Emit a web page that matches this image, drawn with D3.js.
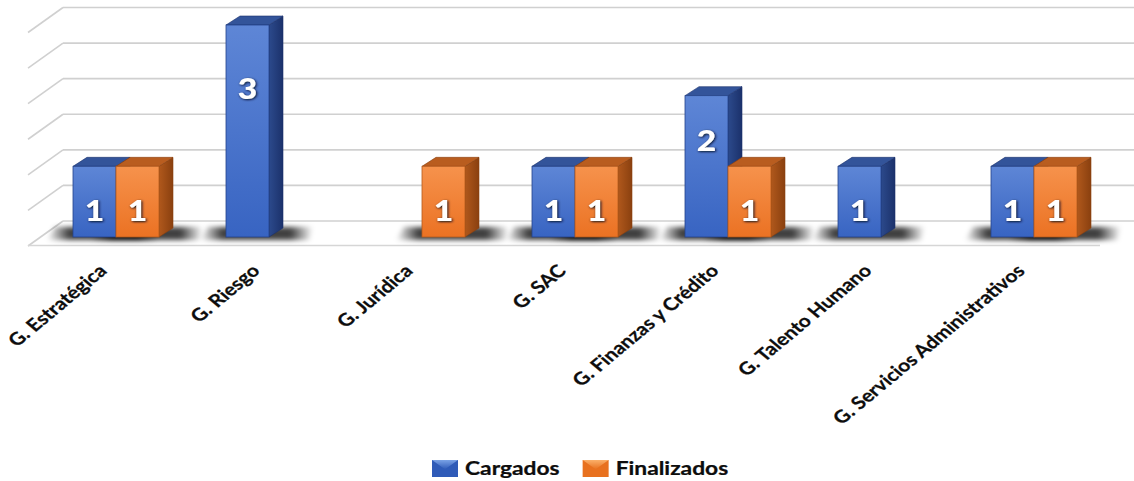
<!DOCTYPE html>
<html>
<head>
<meta charset="utf-8">
<script src="https://cdn.jsdelivr.net/npm/d3@7"></script>
<style>
  html, body { margin: 0; padding: 0; background: #ffffff; }
  svg { display: block; }
</style>
</head>
<body>
<svg id="chart" width="1134" height="481"></svg>
<script>
// ---------------- data ----------------
const categories = ["G. Estratégica", "G. Riesgo", "G. Jurídica", "G. SAC",
  "G. Finanzas y Crédito", "G. Talento Humano", "G. Servicios Administrativos"];
const seriesNames = ["Cargados", "Finalizados"];
const cargados    = [1, 3, null, 1, 2, 1, 1];
const finalizados = [1, null, 1, 1, 1, null, 1];
const gridTicks   = [0, 0.5, 1, 1.5, 2, 2.5, 3];

// ---------------- setup ----------------
const W = 1134, H = 481;
const svg = d3.select("#chart");
const defs = svg.append("defs");
const STRETCH = 1.2;           // horizontal stretch of the original picture
const depth = { dx: 14, dy: -9 };   // bar 3D depth
const wall = { dx: -35, dy: 25 };   // side-wall diagonal

const colors = {
  Cargados:    { front: ["#5e86d6", "#3864c2"], side: ["#2c4a8c", "#1b316b"], top: "#33549a", edge: "#24438a", icon: ["#7aa2e6", "#2f5bb8"] },
  Finalizados: { front: ["#f6924c", "#eb7223"], side: ["#b0581c", "#8a400f"], top: "#b95d1f", edge: "#b45a1c", icon: ["#fbb06a", "#e8711f"] }
};

Object.entries(colors).forEach(([k, c], i) => {
  const gf = defs.append("linearGradient").attr("id", "front" + i).attr("x1", 0).attr("y1", 0).attr("x2", 0).attr("y2", 1);
  gf.append("stop").attr("offset", "0%").attr("stop-color", c.front[0]);
  gf.append("stop").attr("offset", "100%").attr("stop-color", c.front[1]);
  const gs = defs.append("linearGradient").attr("id", "side" + i).attr("x1", 0).attr("y1", 0).attr("x2", 1).attr("y2", 0);
  gs.append("stop").attr("offset", "0%").attr("stop-color", c.side[0]);
  gs.append("stop").attr("offset", "100%").attr("stop-color", c.side[1]);
  const gi = defs.append("linearGradient").attr("id", "icon" + i).attr("x1", 0).attr("y1", 0).attr("x2", 0).attr("y2", 1);
  gi.append("stop").attr("offset", "0%").attr("stop-color", c.icon[0]);
  gi.append("stop").attr("offset", "100%").attr("stop-color", c.icon[1]);
});

const shGrad = defs.append("linearGradient").attr("id", "shadowGrad").attr("x1", 0).attr("y1", 0).attr("x2", 1).attr("y2", 0);
[[0, 0], [0.2, 0.75], [0.8, 0.75], [1, 0]].forEach(([o, a]) =>
  shGrad.append("stop").attr("offset", o).attr("stop-color", "#000").attr("stop-opacity", a));

const blur = defs.append("filter").attr("id", "shadowBlur").attr("x", "-30%").attr("y", "-100%").attr("width", "160%").attr("height", "300%");
blur.append("feGaussianBlur").attr("stdDeviation", 2.5);

const txtShadow = defs.append("filter").attr("id", "txtShadow").attr("x", "-50%").attr("y", "-50%").attr("width", "200%").attr("height", "200%");
txtShadow.append("feDropShadow").attr("dx", 0.8).attr("dy", 0.8).attr("stdDeviation", 1.2)
  .attr("flood-color", "#050a20").attr("flood-opacity", 1);

// ---------------- scales ----------------
const yWall = d3.scaleLinear().domain([0, 3]).range([221, 7.5]);
const yBar  = d3.scaleLinear().domain([0, 3]).range([237, 25]);
const x0 = d3.scaleBand().domain(categories).range([39.5, 1110.5]).padding(0);
const barW = 43;
const x1 = d3.scaleBand().domain(seriesNames)
  .range([x0.bandwidth() / 2 - barW, x0.bandwidth() / 2 + barW]).padding(0);

// ---------------- walls / grid ----------------
const wallX = 63;
const grid = svg.append("g").attr("class", "grid");
grid.selectAll("line.back").data(gridTicks).join("line")
  .attr("class", "back")
  .attr("x1", wallX).attr("x2", W)
  .attr("y1", d => yWall(d)).attr("y2", d => yWall(d))
  .attr("stroke", "#d0d0d0").attr("stroke-width", 1.6);
grid.selectAll("line.side").data(gridTicks).join("line")
  .attr("class", "side")
  .attr("x1", wallX).attr("y1", d => yWall(d))
  .attr("x2", wallX + wall.dx).attr("y2", d => yWall(d) + wall.dy)
  .attr("stroke", "#d0d0d0").attr("stroke-width", 1.6);
// front floor edge
grid.append("line")
  .attr("x1", wallX + wall.dx).attr("x2", 1100)
  .attr("y1", yWall(0) + wall.dy - 0.5).attr("y2", yWall(0) + wall.dy - 0.5)
  .attr("stroke", "#d6d6d6").attr("stroke-width", 1.6);

// ---------------- bars ----------------
const rows = categories.map((c, i) => ({
  cat: c,
  vals: [
    { s: "Cargados", si: 0, v: cargados[i] },
    { s: "Finalizados", si: 1, v: finalizados[i] }
  ].filter(d => d.v != null)
}));

// floor shadows
const shadows = svg.append("g").attr("class", "shadows");
rows.forEach(r => {
  r.vals.forEach(d => {
    const left = x0(r.cat) + x1(d.s);
    const right = left + barW;
    const b = yBar(0);
    shadows.append("path")
      .attr("d", `M${left - 26},${b + 3} L${right + depth.dx + 26},${b + 3} L${right + depth.dx + 30},${b - 10} L${left - 18},${b - 10} Z`)
      .attr("fill", "url(#shadowGrad)").attr("filter", "url(#shadowBlur)");
  });
});

const barsG = svg.append("g").attr("class", "bars");
rows.forEach(r => {
  r.vals.forEach(d => {
    const c = colors[d.s];
    const left = x0(r.cat) + x1(d.s);
    const right = left + barW;
    const top = yBar(d.v), bot = yBar(0);
    const g = barsG.append("g");
    g.append("path")
      .attr("d", `M${right},${top} L${right + depth.dx},${top + depth.dy} L${right + depth.dx},${bot + depth.dy} L${right},${bot} Z`)
      .attr("fill", `url(#side${d.si})`).attr("stroke", c.side[1]).attr("stroke-width", 0.6);
    g.append("path")
      .attr("d", `M${left},${top} L${left + depth.dx},${top + depth.dy} L${right + depth.dx},${top + depth.dy} L${right},${top} Z`)
      .attr("fill", c.top).attr("stroke", c.side[1]).attr("stroke-width", 0.6);
    g.append("rect")
      .attr("x", left).attr("y", top).attr("width", barW).attr("height", bot - top)
      .attr("fill", `url(#front${d.si})`).attr("stroke", c.edge).attr("stroke-width", 0.8);
  });
});

// value labels
const labelsG = svg.append("g").attr("class", "values");
rows.forEach(r => {
  r.vals.forEach(d => {
    const left = x0(r.cat) + x1(d.s);
    const top = yBar(d.v), bot = yBar(0);
    const cy = top + Math.max(45, 0.3 * (bot - top));
    labelsG.append("text")
      .attr("transform", `translate(${left + barW / 2},${cy}) scale(${STRETCH},1)`)
      .attr("text-anchor", "middle").attr("dy", "0.36em")
      .attr("font-family", "Lato, 'Open Sans', sans-serif").attr("font-weight", 900)
      .attr("font-size", 28).attr("fill", "#ffffff")
      .attr("filter", "url(#txtShadow)")
      .text(d.v);
  });
});

// ---------------- category labels ----------------
const catG = svg.append("g").attr("class", "cats");
catG.selectAll("text").data(categories).join("text")
  .attr("transform", d => `translate(${x0(d) + x0.bandwidth() / 2 - 8},${272}) scale(${STRETCH},1) rotate(-45)`)
  .attr("text-anchor", "end")
  .attr("font-family", "Lato, sans-serif").attr("font-weight", 700)
  .attr("font-size", 17.5).attr("fill", "#0d0d0d")
  .attr("stroke", "#0d0d0d").attr("stroke-width", 0.25)
  .text(d => d);

// ---------------- legend ----------------
const legend = svg.append("g").attr("class", "legend");
let lx = 432;
const ly = 460;
seriesNames.forEach((s, i) => {
  const g = legend.append("g").attr("transform", `translate(${lx},${ly})`);
  const iw = 26, ih = 17;
  g.append("rect").attr("width", iw).attr("height", ih).attr("fill", colors[s].icon[1]);
  g.append("path").attr("d", `M0,0 L${iw},0 L${iw / 2},${ih * 0.55} Z`).attr("fill", `url(#icon${i})`);
  const t = g.append("text")
    .attr("transform", `translate(${iw + 7},${14.5}) scale(${STRETCH},1)`)
    .attr("font-family", "Lato, sans-serif").attr("font-weight", 700)
    .attr("font-size", 19).attr("fill", "#0d0d0d")
    .attr("stroke", "#0d0d0d").attr("stroke-width", 0.25)
    .text(s);
  const tw = t.node().getComputedTextLength() * STRETCH;
  lx += iw + 7 + tw + 23;
});
</script>
</body>
</html>
